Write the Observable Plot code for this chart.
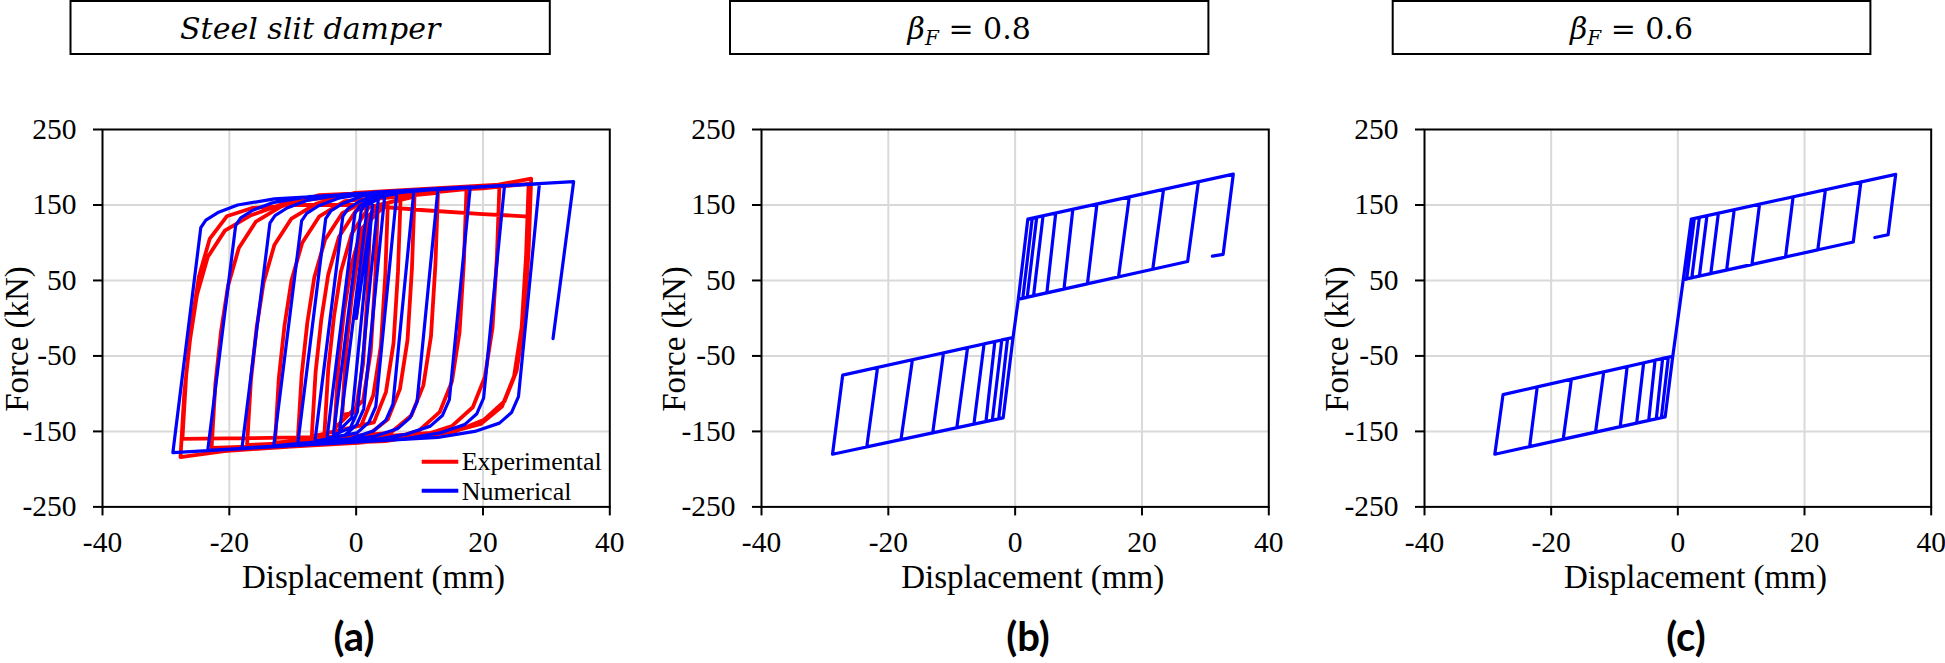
<!DOCTYPE html>
<html>
<head>
<meta charset="utf-8">
<script src="https://cdn.jsdelivr.net/npm/d3@7"></script>
<script src="https://cdn.jsdelivr.net/npm/@observablehq/plot@0.6"></script>
<style>
  html, body { margin: 0; padding: 0; background: #fff; overflow: hidden; }
  #root { position: relative; width: 1945px; height: 663px; }
  #root svg.panel { position: absolute; }
  #root svg.panel text { font-family: "Liberation Serif", "Times New Roman", serif !important; font-size: 29.5px !important; }
  #overlay { position: absolute; left: 0; top: 0; pointer-events: none; }
</style>
</head>
<body>
<div id="root">
<svg id="overlay" width="1945" height="663" xmlns="http://www.w3.org/2000/svg">
  <g fill="none" stroke="#000" stroke-width="2">
    <rect x="70.5" y="1" width="479.3" height="53"></rect>
    <rect x="730" y="1" width="478.4" height="53"></rect>
    <rect x="1392.7" y="1" width="477.7" height="53"></rect>
  </g>
  <g font-family="DejaVu Serif" font-size="30" text-anchor="middle" fill="#000">
    <text x="310.2" y="39.4" font-style="italic">Steel slit damper</text>
    <text x="969.2" y="39.4"><tspan font-style="italic">β</tspan><tspan font-style="italic" font-size="20" dy="6">F</tspan><tspan dy="-6"> = 0.8</tspan></text>
    <text x="1631.5" y="39.4"><tspan font-style="italic">β</tspan><tspan font-style="italic" font-size="20" dy="6">F</tspan><tspan dy="-6"> = 0.6</tspan></text>
  </g>
  <g font-family="Liberation Serif" font-size="33" text-anchor="middle" fill="#000">
    <text x="373.4" y="588">Displacement (mm)</text>
    <text x="1032.7" y="588">Displacement (mm)</text>
    <text x="1695.4" y="588">Displacement (mm)</text>
    <text transform="translate(28,339) rotate(-90)">Force (kN)</text>
    <text transform="translate(685,339) rotate(-90)">Force (kN)</text>
    <text transform="translate(1348,339) rotate(-90)">Force (kN)</text>
  </g>
  <g font-family="Lato" font-weight="bold" font-size="40" text-anchor="middle" fill="#000">
    <text x="354" y="651">(a)</text>
    <text x="1028" y="651">(b)</text>
    <text x="1686" y="651">(c)</text>
  </g>
  <g font-family="Liberation Serif" font-size="26" fill="#000">
    <line x1="421.7" y1="461.7" x2="458.3" y2="461.7" stroke="#ff0000" stroke-width="4"></line>
    <line x1="421.7" y1="490.7" x2="458.3" y2="490.7" stroke="#0000ff" stroke-width="4"></line>
    <text x="461.7" y="470">Experimental</text>
    <text x="461.7" y="500">Numerical</text>
  </g>
</svg>
</div>
<script>
// ---------- axes ----------
const xTicks = [-40, -20, 0, 20, 40];
const yTicks = [250, 150, 50, -50, -150, -250];
const gridXValues = [-20, 0, 20];
const gridYValues = [150, 50, -50, -150];

// ---------- panel (a): experimental (red) loop vertices ----------
const expX = [0, 1.4, 2.2, 1.8, 1.1, -0.1, -2.2, -1.6, -0.7, 0.4, 2.1, 3.4, 3.0, 2.3, 1.1, -3.4,
  -2.8, -1.9, -0.8, 0.9, 5.0, 4.6, 3.9, 2.7, 0.8, -5.0,
  -4.4, -3.5, -2.4, -0.7, 2.0, 7.0, 6.6, 5.9, 4.7, 2.8, -7.0,
  -6.4, -5.5, -4.4, -2.7, 0, 9.2, 8.8, 8.1, 6.9, 5.0, 1.7, -9.2,
  -8.6, -7.7, -6.6, -4.9, -2.2, 1.8, 12.9, 12.5, 11.8, 10.6, 8.7, 5.4, -12.8,
  -12.2, -11.3, -10.2, -8.5, -5.8, -1.8, 17.4, 17.0, 16.3, 15.1, 13.2, 9.9, 5.4, -17.2,
  -16.6, -15.7, -14.6, -12.9, -10.2, -6.2, -0.2, 22.6, 22.2, 21.5, 20.3, 18.4, 15.1, 10.6, 4.6, -22.8,
  -22.2, -21.3, -20.2, -18.5, -15.8, -11.8, -5.8, 20, 27.6,
  27.2, 26.5, 25.3, 23.4, 20.1, 15.6, 9.6, 0.3, -10.3, -20.8, -27.7,
  -27.1, -26.2, -25.1, -23.4, -20.7, -16.7, -10.7, 0, 20, 27.2,
  26.8, 26.1, 24.9, 23.0, 19.7, 15.2, 5, -17, -27.4,
  -26.8, -25.9, -24.8, -23.1, -20.4, -16.4, -10, 0, 10.8, 20, 26.6];
const expF = [0, 100, 130, 35, -60, -125, -128, -43, 27, 87, 137, 146, 51, -44, -109, -146,
  -61, 9, 69, 119, 153, 58, -37, -102, -142, -153,
  -68, 2, 62, 112, 147, 157, 62, -33, -98, -138, -157,
  -72, -2, 58, 108, 143, 161, 66, -29, -94, -134, -156, -161,
  -76, -6, 54, 104, 139, 157, 166, 71, -24, -89, -129, -152, -165,
  -80, -10, 50, 100, 135, 155, 171, 76, -19, -84, -124, -149, -160, -168,
  -83, -13, 47, 97, 132, 152, 166, 177, 82, -13, -78, -118, -143, -155, -163, -172,
  -87, -17, 43, 93, 128, 148, 163, 173, 185,
  90, -5, -70, -110, -135, -150, -158, -165, -170, -176, -184,
  -99, -29, 31, 81, 116, 136, 154, 164, 172, 178,
  83, -12, -77, -117, -140, -150, -156, -159, -160,
  -75, -5, 55, 105, 135, 146, 150, 150, 143, 138, 135];

// ---------- panel (a): numerical (blue) loop vertices ----------
const numX = [0, 2.6, -0.7, -2.6, 1.8, 3.5, 0.2, -0.9, -3.6, 0.8, 1.6, 4.5,
  1.2, 0.1, -1.8, -4.6, -0.2, 0.6, 2.5, 6.4,
  3.1, 2.0, 0.1, -6.5, -2.1, -1.3, 0.6, 3.7, 9.1,
  5.8, 4.7, 2.8, -1.1, -9.2, -4.8, -4.0, -2.1, 1.0, 12.9,
  9.6, 8.5, 6.6, 2.7, -13.0, -8.6, -7.8, -5.9, -2.8, 3.0, 18.0,
  14.7, 13.6, 11.7, 7.8, 2.0, -18.0, -13.6, -12.8, -10.9, -7.8, -2.0, 23.4,
  20.1, 19.0, 17.1, 13.2, 7.4, -23.4, -19.0, -18.2, -16.3, -13.2, -7.4, 28.9,
  25.6, 24.5, 22.6, 18.7, 12.9, -28.9, -24.5, -23.7, -21.8, -18.7, -12.9, 34.3,
  31.05];
const numF = [0, 150, -132, -148, 150, 158, -124, -145, -155, 143, 153, 162,
  -120, -141, -155, -159, 139, 149, 159, 165,
  -117, -138, -152, -163, 135, 145, 155, 165, 168,
  -114, -135, -149, -160, -166, 132, 142, 152, 162, 171,
  -111, -132, -146, -157, -169, 129, 139, 149, 159, 167, 174,
  -108, -129, -143, -154, -162, -172, 126, 136, 146, 156, 164, 176,
  -106, -127, -141, -152, -160, -175, 123, 133, 143, 153, 161, 178,
  -104, -125, -139, -150, -158, -178, 120, 130, 140, 150, 158, 181,
  -27];

// ---------- panel (b): beta_F = 0.8 ----------
const bElasticX = [-1.89, -0.33, 0.5, 2.0];
const bElasticF = [-132, -25.6, 25.2, 131.2];
const bPeakX = [2.7, 3.4, 4.4, 6.4, 9.1, 12.9, 18.0, 23.4, 28.9, 34.4];
const bPeakF = [132.5, 133.8, 135.6, 139.3, 144.3, 151.3, 160.6, 170.6, 180.7, 190.8];
const bDropX = [1.2, 1.9, 2.9, 5.0, 7.7, 11.4, 16.3, 21.7, 27.2, 32.8];
const bDropF = [26.2, 27.6, 29.4, 33.4, 38.5, 45.4, 54.6, 64.8, 75.1, 84.6];
const bNegPeakX = [-2.6, -3.6, -4.6, -6.5, -9.2, -13.0, -18.0, -23.4, -28.8];
const bNegPeakF = [-133.3, -135.1, -136.9, -140.3, -145.1, -151.9, -160.8, -170.5, -180.2];
const bNegRiseX = [-1.2, -2.1, -3.2, -4.9, -7.5, -11.3, -16.2, -21.7, -27.2];
const bNegRiseF = [-27.2, -28.8, -30.9, -34.0, -38.9, -45.9, -55.1, -65.3, -75.5];
const bEnd = [31.1, 82.2];

// ---------- panel (c): beta_F = 0.6 ----------
const cElasticX = [-2.0, -0.8, 0.86, 2.12];
const cElasticF = [-130.7, -50.4, 51.2, 131.2];
const cPeakX = [2.6, 3.4, 4.6, 6.4, 8.9, 12.9, 18.2, 23.3, 28.9, 34.4];
const cPeakF = [132.1, 133.6, 135.8, 139.1, 143.7, 151.0, 160.9, 170.2, 180.5, 190.6];
const cDropX = [1.4, 2.2, 3.4, 5.2, 7.7, 11.7, 17.0, 22.1, 27.7, 33.2];
const cDropF = [51.8, 53.3, 55.5, 58.9, 63.6, 71.0, 80.9, 90.5, 101.0, 110.5];
const cNegPeakX = [-2.6, -3.4, -4.6, -6.5, -9.1, -13.0, -18.1, -23.4, -28.9];
const cNegPeakF = [-131.8, -133.3, -135.5, -139.0, -143.8, -151.0, -160.3, -170.1, -180.2];
const cNegRiseX = [-1.5, -2.4, -3.6, -5.4, -8.0, -11.7, -16.8, -22.2, -27.6];
const cNegRiseF = [-51.7, -53.3, -55.6, -59.1, -64.0, -71.1, -80.7, -91.0, -101.3];
const cEnd = [31.1, 106.9];

// ---------- build tables ----------
function zipPath(xs, fs, series) {
  return xs.map((x, i) => ({x, y: fs[i], series}));
}
function flagPath(elX, elF, pX, pF, dX, dF, nX, nF, rX, rF, end) {
  const pts = [];
  const add = (x, y) => pts.push({x, y});
  add(elX[2], elF[2]);
  for (let i = 0; i < pX.length; i++) {
    add(elX[3], elF[3]);
    add(pX[i], pF[i]);
    add(dX[i], dF[i]);
    if (i < nX.length) {
      add(elX[2], elF[2]); add(elX[1], elF[1]); add(elX[0], elF[0]);
      add(nX[i], nF[i]);
      add(rX[i], rF[i]);
      add(elX[1], elF[1]); add(elX[2], elF[2]);
    } else {
      add(end[0], end[1]);
    }
  }
  return pts;
}

const panelA = [...zipPath(expX, expF, "Experimental"), ...zipPath(numX, numF, "Numerical")];
const panelB = flagPath(bElasticX, bElasticF, bPeakX, bPeakF, bDropX, bDropF, bNegPeakX, bNegPeakF, bNegRiseX, bNegRiseF, bEnd);
const panelC = flagPath(cElasticX, cElasticF, cPeakX, cPeakF, cDropX, cDropF, cNegPeakX, cNegPeakF, cNegRiseX, cNegRiseF, cEnd);

const TOP = 129.3, BOTTOM = 506.7, ML = 100, MR = 14, MT = 20, MB = 100;
const tickFmt = d => String(d);

function makePanel(left, right, lineMarks) {
  const w = ML + (right - left) + MR;
  const h = MT + (BOTTOM - TOP) + MB;
  const svg = Plot.plot({
    width: w, height: h,
    marginLeft: ML, marginRight: MR, marginTop: MT, marginBottom: MB,
    x: {domain: [-40, 40]},
    y: {domain: [-250, 250]},
    style: {background: "transparent", color: "#000", fontFamily: "Liberation Serif", fontSize: "29.5px", overflow: "visible"},
    marks: [
      Plot.gridX(gridXValues, {stroke: "#d9d9d9", strokeOpacity: 1, strokeWidth: 2}),
      Plot.gridY(gridYValues, {stroke: "#d9d9d9", strokeOpacity: 1, strokeWidth: 2}),
      ...lineMarks,
      Plot.frame({stroke: "#000", strokeWidth: 2}),
      Plot.axisX(xTicks, {tickSize: 9, tickPadding: 15, tickFormat: tickFmt, label: null, strokeWidth: 2, fontSize: 29.5, fontFamily: "Liberation Serif"}),
      Plot.axisY(yTicks, {tickSize: 9, tickPadding: 17, tickFormat: tickFmt, label: null, strokeWidth: 2, fontSize: 29.5, fontFamily: "Liberation Serif"})
    ]
  });
  svg.classList.add("panel");
  svg.style.left = (left - ML) + "px";
  svg.style.top = (TOP - MT) + "px";
  document.getElementById("root").insertBefore(svg, document.getElementById("overlay"));
}

makePanel(101.7, 609, [
  Plot.line(panelA.filter(d => d.series === "Experimental"), {x: "x", y: "y", stroke: "#ff0000", strokeWidth: 3.8, strokeLinejoin: "round"}),
  Plot.line(panelA.filter(d => d.series === "Numerical"), {x: "x", y: "y", stroke: "#0000ff", strokeWidth: 3.2, strokeLinejoin: "round"})
]);
makePanel(761, 1268.3, [
  Plot.line(panelB, {x: "x", y: "y", stroke: "#0000ff", strokeWidth: 3.2, strokeLinejoin: "round"})
]);
makePanel(1424, 1930.7, [
  Plot.line(panelC, {x: "x", y: "y", stroke: "#0000ff", strokeWidth: 3.2, strokeLinejoin: "round"})
]);
</script>
</body>
</html>
